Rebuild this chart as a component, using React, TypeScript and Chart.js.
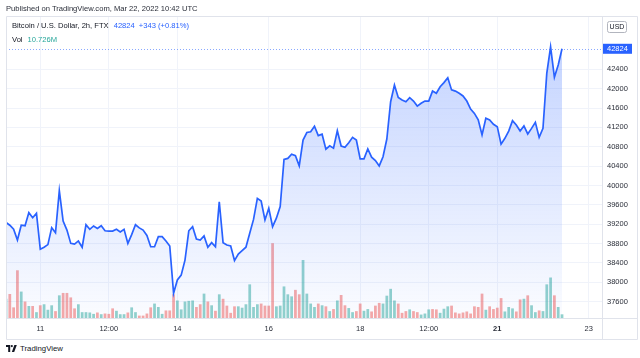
import React, { useEffect, useRef } from "react";
import { Chart, registerables } from "chart.js";

Chart.register(...registerables);

// Time axis: hours since Mar 10, 2022 00:00 UTC, 2h bars
const START_HOUR = 6;
const STEP_HOURS = 2;

const prices = [
  39240, 39180, 39100, 38875, 39180, 39170, 39440, 39335, 39425, 38685,
  38725, 38780, 39130, 39025, 39895, 39265, 39080, 38805, 38790, 38855,
  38725, 39190, 39095, 39165, 39115, 39170, 39065, 39060, 39060, 39095,
  39040, 39095, 38805, 38985, 39190, 39125, 39080, 38970, 38735, 38735,
  38945, 38945, 38855, 38750, 37775, 38050, 38150, 38460, 39065, 39150,
  38895, 38875, 38960, 38725, 38820, 38735, 39665, 38820, 38770, 38750,
  38450, 38585, 38655, 38725, 39015, 39300, 39735, 39680, 39290, 39530,
  39150, 39325, 39565, 40540, 40560, 40645, 40615, 40405, 40940, 41095,
  41110, 41225, 41030, 41060, 40750, 40820, 40770, 41130, 40815, 40790,
  40885, 40995, 40940, 40550, 40550, 40755, 40585, 40515, 40405, 40595,
  40960, 41730, 42075, 41820, 41765, 41730, 41815, 41745, 41640, 41700,
  41745, 41745, 41950, 41905, 42040, 42125, 42225, 41975, 41950, 41905,
  41850, 41745, 41580, 41490, 41355, 41045, 41390, 41355, 41265, 41215,
  40855, 40975, 41125, 41340, 41250, 41125, 41230, 41065, 41180, 41305,
  40995, 41180, 42315, 42865, 42235, 42490, 42824,
];

// volume in millions
const volumes = [
  56, 70, 31, 139, 77, 48, 35, 35, 17, 37,
  40, 24, 37, 20, 66, 73, 73, 60, 28, 40,
  17, 17, 16, 12, 16, 11, 13, 12, 28, 21,
  11, 11, 16, 31, 17, 7, 7, 13, 31, 42,
  32, 12, 22, 22, 69, 51, 25, 48, 50, 51,
  32, 40, 71, 48, 37, 21, 69, 56, 36, 15,
  34, 34, 30, 40, 98, 32, 40, 42, 36, 36,
  218, 34, 36, 92, 69, 63, 82, 69, 169, 71,
  42, 32, 42, 37, 34, 20, 26, 51, 67, 37,
  29, 17, 20, 42, 21, 26, 19, 36, 44, 42,
  65, 85, 51, 42, 15, 20, 25, 20, 17, 10,
  13, 25, 26, 25, 15, 27, 34, 36, 16, 13,
  16, 19, 13, 34, 32, 71, 24, 34, 26, 30,
  58, 19, 32, 28, 19, 54, 56, 66, 37, 17,
  22, 20, 98, 118, 66, 32, 10.726,
];

// 1 = up bar (green), 0 = down bar (red)
const volumeUp = [
  1, 0, 0, 0, 1, 0, 1, 0, 1, 0,
  1, 1, 1, 0, 1, 0, 0, 0, 0, 1,
  1, 1, 1, 1, 0, 1, 0, 0, 0, 1,
  1, 1, 0, 1, 1, 0, 0, 0, 0, 1,
  1, 1, 0, 0, 0, 1, 1, 1, 1, 1,
  0, 0, 1, 0, 1, 0, 1, 0, 0, 0,
  0, 1, 1, 1, 1, 1, 1, 0, 0, 0,
  0, 1, 1, 1, 1, 1, 0, 0, 1, 1,
  1, 1, 0, 1, 0, 1, 0, 1, 0, 0,
  1, 1, 0, 0, 1, 1, 0, 0, 0, 1,
  1, 1, 1, 0, 0, 0, 1, 0, 0, 1,
  1, 1, 0, 0, 1, 1, 1, 0, 0, 0,
  0, 0, 0, 0, 0, 0, 1, 0, 0, 0,
  0, 1, 1, 1, 0, 0, 1, 0, 1, 1,
  0, 1, 1, 1, 0, 1, 1,
];

const timeTickHours = [24, 60, 96, 144, 192, 228, 264, 312];
const timeTickLabels = ["11", "12:00", "14", "16", "18", "12:00", "21", "23"];
const boldTimeTick = 264;

const priceTicks = [
  37600, 38000, 38400, 38800, 39200, 39600, 40000, 40400, 40800, 41200, 41600, 42000, 42400,
];

const lastPrice = 42824;

const FONT = "'Liberation Sans', Arial, sans-serif";
const BLUE = "#2962ff";
const FRAME = "#e0e3eb";
const GRID = "#f0f3fa";

const overlayPlugin = {
  id: "tvOverlay",
  beforeDatasetsDraw(chart: any) {
    const { ctx, chartArea, scales } = chart;
    const y = Math.round(scales.y.getPixelForValue(lastPrice)) + 0.5;
    ctx.save();
    ctx.strokeStyle = "rgba(41,98,255,0.55)";
    ctx.lineWidth = 1;
    ctx.setLineDash([1, 2]);
    ctx.beginPath();
    ctx.moveTo(chartArea.left, y);
    ctx.lineTo(chartArea.right, y);
    ctx.stroke();
    ctx.restore();
  },
  afterDraw(chart: any) {
    const { ctx, chartArea, scales, width, height } = chart;
    ctx.save();
    // frame
    ctx.strokeStyle = FRAME;
    ctx.lineWidth = 1;
    ctx.beginPath();
    ctx.rect(6.5, 16.5, width - 9, height - 17);
    ctx.moveTo(Math.round(chartArea.right) + 0.5, 16);
    ctx.lineTo(Math.round(chartArea.right) + 0.5, height - 0.5);
    ctx.moveTo(6, Math.round(chartArea.bottom) + 0.5);
    ctx.lineTo(width - 2, Math.round(chartArea.bottom) + 0.5);
    ctx.stroke();

    // last price label
    const y = scales.y.getPixelForValue(lastPrice);
    ctx.fillStyle = BLUE;
    ctx.fillRect(chartArea.right + 1, y - 5, 29, 10);
    ctx.fillStyle = "#ffffff";
    ctx.font = `7.5px ${FONT}`;
    ctx.textBaseline = "middle";
    ctx.textAlign = "left";
    ctx.fillText(String(lastPrice), chartArea.right + 5, y + 0.5);

    // currency box
    ctx.strokeStyle = "#b2b5be";
    ctx.beginPath();
    (ctx as any).roundRect(607.5, 21.5, 19, 11, 2);
    ctx.stroke();
    ctx.fillStyle = "#131722";
    ctx.font = `7px ${FONT}`;
    ctx.textAlign = "center";
    ctx.fillText("USD", 617, 27.5);
    ctx.restore();
  },
};

function ChartCanvas() {
  const ref = useRef<HTMLCanvasElement | null>(null);
  useEffect(() => {
    if (!ref.current) return;
    const times = prices.map((_, i) => START_HOUR + i * STEP_HOURS);
    const chart = new Chart(ref.current, {
      type: "line",
      data: {
        datasets: [
          {
            type: "line",
            data: times.map((t, i) => ({ x: t, y: prices[i] })),
            yAxisID: "y",
            borderColor: BLUE,
            borderWidth: 1.7,
            pointRadius: 0,
            tension: 0,
            fill: "start",
            backgroundColor: (context: any) => {
              const { chart: c } = context;
              const area = c.chartArea;
              if (!area) return "rgba(41,98,255,0.15)";
              const g = c.ctx.createLinearGradient(0, area.top, 0, area.bottom);
              g.addColorStop(0, "rgba(41,98,255,0.30)");
              g.addColorStop(1, "rgba(41,98,255,0.02)");
              return g;
            },
            order: 0,
          } as any,
          {
            type: "bar",
            data: times.map((t, i) => ({ x: t, y: volumes[i] })),
            yAxisID: "v",
            backgroundColor: volumeUp.map((u) =>
              u ? "rgba(38,166,154,0.5)" : "rgba(239,83,80,0.5)"
            ),
            borderWidth: 0,
            barPercentage: 0.72,
            categoryPercentage: 1,
            order: 1,
          } as any,
        ],
      },
      options: {
        responsive: false,
        animation: false,
        devicePixelRatio: 1,
        layout: { padding: { left: 6, top: 16, right: 0, bottom: 0 } },
        plugins: {
          legend: { display: false },
          tooltip: { enabled: false },
        },
        scales: {
          x: {
            type: "linear",
            min: 6,
            max: 319,
            offset: false,
            grid: { color: GRID, drawTicks: false, offset: false },
            border: { display: false },
            afterBuildTicks: (s: any) => {
              s.ticks = timeTickHours.map((v) => ({ value: v }));
            },
            afterFit: (s: any) => {
              s.height = 22;
            },
            ticks: {
              autoSkip: false,
              maxRotation: 0,
              padding: 6,
              color: "#2a2e39",
              font: (c: any) => ({
                family: FONT,
                size: 7.5,
                weight: c.tick && c.tick.value === boldTimeTick ? "bold" : "normal",
              }),
              callback: (v: any) => {
                const idx = timeTickHours.indexOf(Number(v));
                return idx >= 0 ? timeTickLabels[idx] : "";
              },
            },
          },
          y: {
            position: "right",
            min: 37264,
            max: 43501,
            grid: { color: GRID, drawTicks: false },
            border: { display: false },
            afterBuildTicks: (s: any) => {
              s.ticks = priceTicks.map((v) => ({ value: v }));
            },
            afterFit: (s: any) => {
              s.width = 38;
            },
            ticks: {
              padding: 5,
              color: "#2a2e39",
              font: { family: FONT, size: 7.5 },
              callback: (v: any) => String(v),
            },
          },
          v: {
            display: false,
            min: 0,
            max: 880,
          },
        },
      } as any,
      plugins: [overlayPlugin],
    });
    return () => chart.destroy();
  }, []);
  return (
    <canvas
      ref={ref}
      width={640}
      height={340}
      style={{ position: "absolute", left: 0, top: 0, width: 640, height: 340 }}
    />
  );
}

export default function App() {
  useEffect(() => {
    document.body.style.margin = "0";
  }, []);
  const text: React.CSSProperties = {
    position: "absolute",
    whiteSpace: "nowrap",
    fontFamily: FONT,
    fontSize: 7.6,
    lineHeight: "9px",
    color: "#131722",
  };
  return (
    <div
      style={{
        position: "fixed",
        left: 0,
        top: 0,
        width: 640,
        height: 358,
        background: "#ffffff",
        overflow: "hidden",
      }}
    >
      <ChartCanvas />
      <div style={{ ...text, left: 6, top: 3.5, color: "#2a2e39" }}>
        Published on TradingView.com, Mar 22, 2022 10:42 UTC
      </div>
      <div style={{ ...text, left: 12, top: 21 }}>
        Bitcoin / U.S. Dollar, 2h, FTX
        <span style={{ color: BLUE, marginLeft: 5 }}>42824</span>
        <span style={{ color: BLUE, marginLeft: 4 }}>+343 (+0.81%)</span>
      </div>
      <div style={{ ...text, left: 12, top: 34.5 }}>
        Vol
        <span style={{ color: "#26a69a", marginLeft: 5 }}>10.726M</span>
      </div>
      <div style={{ ...text, left: 6, top: 343.5, display: "flex", alignItems: "center" }}>
        <svg width="11" height="7" viewBox="0 0 11 7" style={{ marginRight: 3 }}>
          <path d="M0 0 H4.2 V7 H2.2 V2 H0 Z" fill="#131722" />
          <circle cx="5.8" cy="1.1" r="1.1" fill="#131722" />
          <path d="M8.4 0 H10.8 L8.2 7 H5.8 Z" fill="#131722" />
        </svg>
        <span style={{ fontSize: 7.8 }}>TradingView</span>
      </div>
    </div>
  );
}
